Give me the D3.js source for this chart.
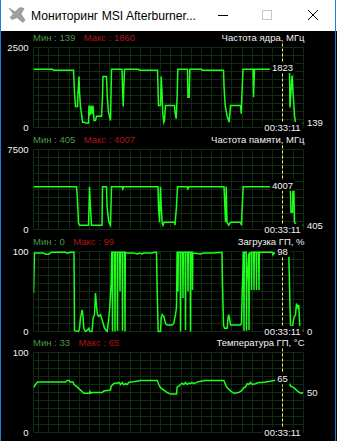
<!DOCTYPE html>
<html>
<head>
<meta charset="utf-8">
<script src="https://cdn.jsdelivr.net/npm/d3@7"></script>
<style>
html, body { margin: 0; padding: 0; background: #000; overflow: hidden; }
svg { display: block; }
text { font-family: "Liberation Sans", Arial, sans-serif; }
</style>
</head>
<body>
<svg id="MonSvg" width="337" height="441"></svg>
<script>
var winTitle = 'Мониторинг MSI Afterburner...'
var graphTitles = ['Частота ядра, МГц', 'Частота памяти, МГц', 'Загрузка ГП, %', 'Температура ГП, °C']
var minVals = [139, 405, 0, 33]
var maxVals = [1860, 4007, 99, 65]
var yMaxVals = [2500, 7500, 100, 100]
var cursorVals = [1823, 4007, 98, 65]
var lastVals = [139, 405, 0, 50]
var cursorTime = '00:33:11'
var cursorT = 248.5
var timeSpan = 270

// [секунда, значение]
var coreClock = [[0, 1823], [19, 1823], [20, 1790], [40, 1790], [41, 1104], [42, 656], [44, 656], [44.5, 1104], [45.5, 1594], [46, 1104], [47, 656], [48, 428], [49, 166], [51, 166], [52, 139], [55, 139], [55.5, 688], [56.5, 375], [57.5, 688], [58.5, 428], [59.5, 688], [60.5, 219], [62, 219], [63, 353], [68, 353], [69, 978], [69.5, 1594], [73, 1594], [73.8, 947], [75, 478], [77, 219], [78, 1823], [88.5, 1823], [89, 1260], [89.7, 656], [90.3, 1260], [91, 1823], [105, 1823], [106, 1790], [124, 1790], [125, 688], [127, 688], [127.7, 1594], [128.5, 1104], [129.3, 428], [130.3, 166], [131, 219], [132, 688], [141, 688], [141.5, 478], [142.7, 272], [143.7, 1041], [144.3, 1823], [154, 1823], [154.5, 947], [155.7, 947], [156.3, 1823], [168, 1823], [168.5, 1790], [190, 1790], [190.5, 1291], [191.7, 688], [193.5, 375], [195.7, 166], [197, 688], [207, 688], [207.7, 428], [208.5, 1104], [209.5, 1823], [219.5, 1823], [220, 947], [221, 1823], [256, 1823], [256.5, 625], [258.5, 1625], [259.5, 1104], [261, 375], [262, 166], [263, 139], [270, 139]]
var memClock = [[0, 4007], [43, 4007], [43.5, 3500], [44.3, 2156], [45, 600], [46, 405], [55, 405], [55.5, 2000], [56, 4007], [57, 2000], [58, 405], [68.5, 405], [69, 4007], [73, 4007], [73.7, 2000], [75.3, 684], [77, 405], [78, 4007], [88.5, 4007], [89.3, 3800], [90, 4007], [124.5, 4007], [125, 2156], [126, 684], [127, 4007], [127.7, 2156], [128.7, 600], [129.5, 405], [130.5, 684], [141, 684], [141.5, 405], [143, 2156], [144, 4007], [153.5, 4007], [154.3, 3800], [155.5, 4007], [190.5, 4007], [191.3, 2250], [192, 684], [192.7, 4007], [193.5, 684], [195.3, 405], [197, 684], [207, 684], [208, 405], [208.7, 2156], [209.7, 4007], [256.5, 4007], [257, 3400], [257.5, 1625], [259, 1625], [259.5, 4007], [260.3, 4007], [261, 684], [262, 534], [263, 405], [270, 405]]
var gpuLoad = [[0, 48], [1, 98], [10, 98], [12, 96.7], [15, 96.7], [18, 99], [32, 99], [33, 98], [35, 98], [36, 99], [40.5, 99], [41, 1], [45, 0], [46, 4], [47, 17], [48.7, 27], [49.5, 19], [50.3, 4], [52, 0], [54, 2], [55.3, 4], [56.3, 0], [58.5, 0], [59.7, 17], [61, 21], [62, 48], [63, 31], [64, 21], [65.3, 19], [67, 21], [68, 17], [69.7, 10], [71, 4], [73.7, 0], [75.3, 17], [76.3, 31], [77.7, 61],
	[78.2, 99], [78.7, 99], [79, 0], [79.3, 99], [81.2, 99], [81.5, 0], [81.8, 99], [83.7, 99], [84, 1], [84.3, 99], [86.2, 99], [86.5, 50], [86.8, 99], [88.7, 99], [89, 1], [89.3, 99], [91.2, 99], [91.5, 0], [91.8, 99], [93.7, 98],
	[100, 98], [104, 97], [106, 98], [108.7, 97], [110, 98], [118.7, 98], [120.3, 99], [123, 99], [123.7, 50], [124.7, 0], [127, 0], [127.7, 17], [128.7, 21], [130.3, 19], [132, 10], [133.7, 8], [138.7, 8], [140.3, 10], [142, 21], [143, 30],
	[143.6, 99], [144.2, 99], [144.5, 50], [144.8, 99], [146.7, 99], [147, 0], [147.3, 99], [149.2, 99], [149.5, 42], [149.8, 99], [151.7, 99], [152, 2], [152.3, 99], [154.2, 99], [154.5, 50], [154.8, 99], [156.7, 99], [157, 0], [157.3, 99], [158.7, 99], [159, 52], [159.3, 98],
	[167, 97], [170, 98], [178.7, 98], [188.5, 99], [189, 60], [190, 8], [191, 4], [193.7, 4], [194.5, 17], [195.3, 21], [196.3, 14], [197, 8], [207, 8], [208, 10], [208.7, 50], [209.3, 70],
	[209.8, 99], [210.2, 99], [210.5, 1], [210.8, 99], [212.7, 99], [213, 1], [213.3, 60], [215.2, 97], [215.5, 2], [215.8, 98], [217.7, 98], [218, 52], [218.3, 99], [220.2, 99], [220.5, 52], [220.8, 99], [222.7, 99], [223, 52], [223.3, 99], [225.2, 99], [225.5, 52], [225.8, 99],
	[238.7, 99], [239.5, 96], [240.3, 98], [255.3, 98], [256.3, 41], [257, 8], [258.7, 4], [260.3, 17], [262, 21], [263, 35], [264.3, 30], [265.3, 33], [266.3, 4], [268.7, 2], [270, 0]]
var gpuTemp = [[0, 56], [2, 60], [4, 63], [32, 63], [33.5, 65], [35.5, 65], [36.5, 63], [39.5, 63], [40.5, 60], [43.7, 57], [47, 53], [50.3, 49], [56, 49], [56.5, 51], [57, 49], [58.7, 50], [68.7, 50], [70.3, 52], [77, 53], [77.7, 58], [80.3, 61], [82, 62], [83.7, 61.7], [85.3, 62.5], [87, 60], [88.7, 62.5], [90.3, 59.6], [92, 61], [93.7, 60], [95.3, 62.5], [97, 63], [100.3, 63.3], [107, 65], [123.7, 65], [125.3, 60], [127, 56], [130.3, 53], [133.7, 50], [137, 48], [143, 48], [143.7, 57], [145.3, 58], [147, 60], [148.7, 61.7], [150.3, 60], [152, 62.5], [153.7, 60], [155.3, 61.7], [157, 61], [158.7, 62.5], [160.3, 61], [163.7, 63], [167, 64], [172, 65], [190.3, 65], [192, 60], [193.7, 56], [197, 52], [200.3, 49], [205.3, 50], [208.7, 53], [210.3, 56], [212, 57], [213.7, 61], [215.3, 60], [217, 62.5], [218.7, 60], [222, 61], [225.3, 62.5], [228.7, 62.5], [232, 63], [237, 64], [240.3, 65], [253.7, 65], [255.3, 64], [257, 58], [258.7, 57], [260.3, 56], [263.7, 52], [267, 49], [270, 50]]
var seriesData = [coreClock, memClock, gpuLoad, gpuTemp]

var MonSvg = d3.select('#MonSvg'),
	MonWidth = +MonSvg.attr('width'),
	MonHeight = +MonSvg.attr('height');
var LineColor = '#1eff1e', GridColor = '#0d2d0d', MinColor = '#4b9a45', MaxColor = '#aa1818', TextColor = '#f2f2f2'

MonSvg.append('rect').attr('width', MonWidth).attr('height', MonHeight).attr('fill', '#000')

// заголовок окна
MonSvg.append('rect').attr('width', MonWidth).attr('height', 31).attr('fill', '#fff')
MonSvg.append('path')
	.attr('d', 'M9,8 L15,12 L20,7.5 L24,8.5 L21,14 L25,20 L23,22.5 L17,17.5 L12,19.5 L10,17.5 L13.5,14 Z')
	.attr('fill', '#a0a0a0').attr('stroke', '#808080').attr('stroke-width', 0.6)
MonSvg.append('text')
	.text(winTitle)
	.attr('x', 31).attr('y', 19.5)
	.attr('font-size', '12px')
	.attr('fill', '#000')
	.attr('textLength', 165).attr('lengthAdjust', 'spacingAndGlyphs')
MonSvg.append('line').attr('x1', 218).attr('x2', 228).attr('y1', 15.5).attr('y2', 15.5).attr('stroke', '#000')
MonSvg.append('rect').attr('x', 262.5).attr('y', 10.5).attr('width', 9).attr('height', 9).attr('fill', 'none').attr('stroke', '#c8c8c8')
MonSvg.append('path').attr('d', 'M308,10 L318,20 M318,10 L308,20').attr('stroke', '#000').attr('stroke-width', 1)

var xScale = d3.scaleLinear().domain([0, timeSpan]).range([33.5, 303.5])

seriesData.forEach(function (data, i) {
	var top = 47.5 + Math.round(i * 101.8), bottom = top + 80
	var yScale = d3.scaleLinear().domain([0, yMaxVals[i]]).range([bottom, top])
	var g = MonSvg.append('g').attr('class', 'graph')

	// сетка
	g.selectAll('.hgrid')
		.data(d3.range(11))
		.join('line')
		.attr('x1', 33.5).attr('x2', 303.5)
		.attr('y1', function (d) { return top + d * 8 })
		.attr('y2', function (d) { return top + d * 8 })
		.attr('stroke', GridColor)
	g.selectAll('.vgrid')
		.data([33.5, 303.5].concat(d3.range(26).map(function (k) { return 38.5 + Math.round(k * 10.18) })))
		.join('line')
		.attr('x1', function (d) { return d }).attr('x2', function (d) { return d })
		.attr('y1', top).attr('y2', bottom)
		.attr('stroke', GridColor)

	MonSvg.append('clipPath').attr('id', 'clip' + i)
		.append('rect').attr('x', 33.5).attr('y', top - 2).attr('width', 270).attr('height', 83)

	g.append('path')
		.datum(data)
		.attr('clip-path', 'url(#clip' + i + ')')
		.attr('fill', 'none')
		.attr('stroke', LineColor)
		.attr('stroke-width', 1.5)
		.attr('d', d3.line()
			.x(function (d) { return xScale(d[0]) })
			.y(function (d) { return yScale(Math.min(d[1], yMaxVals[i])) }))

	// шапка
	var minText = g.append('text')
		.text('Мин : ' + minVals[i])
		.attr('x', 33).attr('y', top - 7)
		.attr('font-size', '9.5px')
		.attr('fill', MinColor)
	g.append('text')
		.text('Макс : ' + maxVals[i])
		.attr('x', 33 + minText.node().getComputedTextLength() + 8.5).attr('y', top - 7)
		.attr('font-size', '9.5px')
		.attr('fill', MaxColor)
	g.append('text')
		.text(graphTitles[i])
		.attr('x', 304.5).attr('y', top - 7)
		.attr('text-anchor', 'end')
		.attr('font-size', '9.5px')
		.attr('fill', TextColor)

	// ось Y
	g.selectAll('.ylab')
		.data([yMaxVals[i], 0])
		.join('text')
		.text(function (d) { return d })
		.attr('x', 28.5)
		.attr('y', function (d) { return yScale(d) })
		.attr('dy', '0.36em')
		.attr('text-anchor', 'end')
		.attr('font-size', '9.5px')
		.attr('fill', TextColor)

	// курсор
	var cx = Math.round(xScale(cursorT)) + 0.5
	g.append('line')
		.attr('x1', cx).attr('x2', cx)
		.attr('y1', top - 4).attr('y2', bottom)
		.attr('stroke', '#f4f25a')
		.attr('stroke-dasharray', '3,2')

	function boxLabel(txt, x, y, anchor) {
		var lg = g.append('g')
		var t = lg.append('text')
			.text(txt)
			.attr('x', x).attr('y', y)
			.attr('dy', '0.36em')
			.attr('text-anchor', anchor)
			.attr('font-size', '9.5px')
			.attr('fill', TextColor)
		var bb = t.node().getBBox()
		lg.insert('rect', 'text')
			.attr('x', bb.x - 2).attr('y', bb.y)
			.attr('width', bb.width + 4).attr('height', bb.height)
			.attr('fill', '#000')
	}
	boxLabel(cursorVals[i], cx, yScale(cursorVals[i]) - 1.5, 'middle')
	boxLabel(cursorTime, cx, bottom, 'middle')
	boxLabel(lastVals[i], 307, yScale(lastVals[i]), 'start')
})

// рамка окна
MonSvg.append('line').attr('x1', 0.5).attr('x2', 0.5).attr('y1', 0).attr('y2', MonHeight).attr('stroke', '#1f7fd6')
MonSvg.append('line').attr('x1', 335.5).attr('x2', 335.5).attr('y1', 0).attr('y2', MonHeight).attr('stroke', '#1f7fd6')
</script>
</body>
</html>
